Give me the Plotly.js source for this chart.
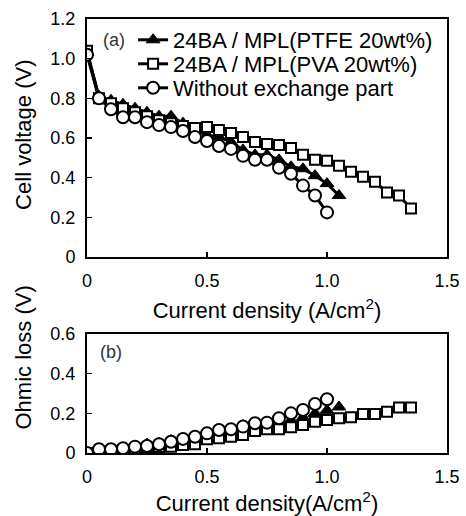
<!DOCTYPE html>
<html>
<head>
<meta charset="utf-8">
<script src="https://cdn.plot.ly/plotly-3.0.1.min.js"></script>
<style>html,body{margin:0;padding:0;background:#fff;}#chart{width:466px;height:516px;}</style>
</head>
<body>
<div id="chart"></div>
<script>
// ---- data ----
const seriesNames = ["24BA / MPL(PTFE 20wt%)", "24BA / MPL(PVA 20wt%)", "Without exchange part"];
const xPTFE = [0,0.05,0.1,0.15,0.2,0.25,0.3,0.35,0.4,0.45,0.5,0.55,0.6,0.65,0.7,0.75,0.8,0.85,0.9,0.95,1.0,1.05];
const xPVA = [0,0.05,0.1,0.15,0.2,0.25,0.3,0.35,0.4,0.45,0.5,0.55,0.6,0.65,0.7,0.75,0.8,0.85,0.9,0.95,1.0,1.05,1.1,1.15,1.2,1.25,1.3,1.35];
const xNone = [0,0.05,0.1,0.15,0.2,0.25,0.3,0.35,0.4,0.45,0.5,0.55,0.6,0.65,0.7,0.75,0.8,0.85,0.9,0.95,1.0];
const voltPTFE = [1.03,0.81,0.79,0.77,0.75,0.73,0.71,0.71,0.675,0.64,0.615,0.605,0.58,0.54,0.515,0.515,0.49,0.455,0.445,0.41,0.37,0.31];
const voltPVA = [1.04,0.80,0.775,0.75,0.73,0.71,0.69,0.675,0.66,0.65,0.655,0.64,0.625,0.605,0.58,0.57,0.565,0.55,0.515,0.49,0.485,0.46,0.43,0.405,0.38,0.325,0.31,0.245];
const voltNone = [1.02,0.80,0.745,0.705,0.705,0.68,0.665,0.655,0.635,0.605,0.585,0.56,0.545,0.51,0.49,0.49,0.45,0.42,0.36,0.31,0.225];
const ohmPTFE = [0,0.01,0.015,0.022,0.03,0.045,0.05,0.063,0.07,0.08,0.095,0.105,0.115,0.138,0.14,0.145,0.155,0.165,0.18,0.2,0.215,0.232];
const ohmPVA = [0,0.005,0.01,0.015,0.02,0.025,0.03,0.032,0.04,0.044,0.069,0.074,0.082,0.091,0.111,0.12,0.12,0.13,0.141,0.158,0.166,0.175,0.18,0.197,0.197,0.208,0.23,0.23];
const ohmNone = [0,0.019,0.019,0.024,0.032,0.035,0.044,0.057,0.071,0.082,0.099,0.116,0.12,0.133,0.15,0.153,0.175,0.2,0.217,0.247,0.271];
const xTickVals = [0,0.5,1.0,1.5];
const xTickText = ["0","0.5","1.0","1.5"];
const yTickVals = [0,0.2,0.4,0.6,0.8,1.0,1.2];
const yTickText = ["0","0.2","0.4","0.6","0.8","1.0","1.2"];
const y2TickVals = [0,0.2,0.4,0.6];
const y2TickText = ["0","0.2","0.4","0.6"];

// ---- styles ----
const FONT = "Liberation Sans, Arial, sans-serif";
const mTri = {symbol:"triangle-up", size:12, color:"#000", line:{color:"#000", width:1}};
const mSq = {symbol:"square", size:10, color:"#fff", line:{color:"#000", width:2}};
const mCirc = {symbol:"circle", size:12, color:"#fff", line:{color:"#000", width:2}};
const ln = {color:"#000", width:3};

const traces = [
  {x:xPTFE, y:voltPTFE, name:seriesNames[0], mode:"lines+markers", marker:mTri, line:ln, xaxis:"x", yaxis:"y", legend:"legend"},
  {x:xPVA, y:voltPVA, name:seriesNames[1], mode:"lines+markers", marker:mSq, line:ln, xaxis:"x", yaxis:"y", legend:"legend2"},
  {x:xNone, y:voltNone, name:seriesNames[2], mode:"lines+markers", marker:mCirc, line:ln, xaxis:"x", yaxis:"y", legend:"legend3"},
  {x:xPTFE, y:ohmPTFE, name:seriesNames[0], mode:"markers", marker:mTri, xaxis:"x2", yaxis:"y2", showlegend:false},
  {x:xPVA, y:ohmPVA, name:seriesNames[1], mode:"markers", marker:mSq, xaxis:"x2", yaxis:"y2", showlegend:false},
  {x:xNone, y:ohmNone, name:seriesNames[2], mode:"markers", marker:mCirc, xaxis:"x2", yaxis:"y2", showlegend:false}
];

const axBase = {showgrid:false, zeroline:false, showline:true, linecolor:"#000", linewidth:2, mirror:true,
  ticks:"inside", ticklen:5, tickwidth:1.5, tickcolor:"#000", tickfont:{family:FONT, size:18, color:"#000"}};

function legendAt(yPaper) {
  return {x:0.128, y:yPaper, xanchor:"left", yanchor:"middle", bgcolor:"rgba(0,0,0,0)", borderwidth:0,
    font:{family:FONT, size:22, color:"#000"}, itemwidth:30, tracegroupgap:0};
}

const layout = {
  width:466, height:516,
  margin:{l:87, r:19, t:19, b:63},
  paper_bgcolor:"#fff", plot_bgcolor:"#fff",
  font:{family:FONT, color:"#000"},
  showlegend:true,
  legend:legendAt(0.9516),
  legend2:legendAt(0.8963),
  legend3:legendAt(0.841),
  xaxis:Object.assign({}, axBase, {domain:[0,1], range:[0,1.5], anchor:"y", tickvals:xTickVals, ticktext:xTickText, ticklabelstandoff:6,
    title:{text:"Current density (A/cm<sup>2</sup>)", font:{family:FONT, size:22, color:"#000"}, standoff:13}}),
  yaxis:Object.assign({}, axBase, {domain:[0.4516,1], range:[0,1.2], anchor:"x", tickvals:yTickVals, ticktext:yTickText, ticklabelstandoff:6}),
  xaxis2:Object.assign({}, axBase, {domain:[0,1], range:[0,1.5], anchor:"y2", tickvals:xTickVals, ticktext:xTickText, ticklabelstandoff:6,
    title:{text:"Current density(A/cm<sup>2</sup>)", font:{family:FONT, size:22, color:"#000"}, standoff:11}}),
  yaxis2:Object.assign({}, axBase, {domain:[0,0.2742], range:[0,0.6], anchor:"x2", tickvals:y2TickVals, ticktext:y2TickText, ticklabelstandoff:6}),
  annotations:[
    {text:"Cell voltage (V)", xref:"paper", yref:"paper", x:-0.175, y:0.733, xanchor:"center", yanchor:"middle", textangle:-90, showarrow:false, font:{family:FONT, size:22, color:"#000"}},
    {text:"Ohmic loss (V)", xref:"paper", yref:"paper", x:-0.175, y:0.22, xanchor:"center", yanchor:"middle", textangle:-90, showarrow:false, font:{family:FONT, size:22, color:"#000"}},
    {text:"(a)", xref:"paper", yref:"paper", x:0.075, y:0.952, xanchor:"center", yanchor:"middle", showarrow:false, font:{family:FONT, size:18, color:"#333"}},
    {text:"(b)", xref:"paper", yref:"paper", x:0.068, y:0.233, xanchor:"center", yanchor:"middle", showarrow:false, font:{family:FONT, size:18, color:"#333"}}
  ]
};

Plotly.newPlot("chart", traces, layout, {displayModeBar:false, staticPlot:true});
</script>
</body>
</html>
